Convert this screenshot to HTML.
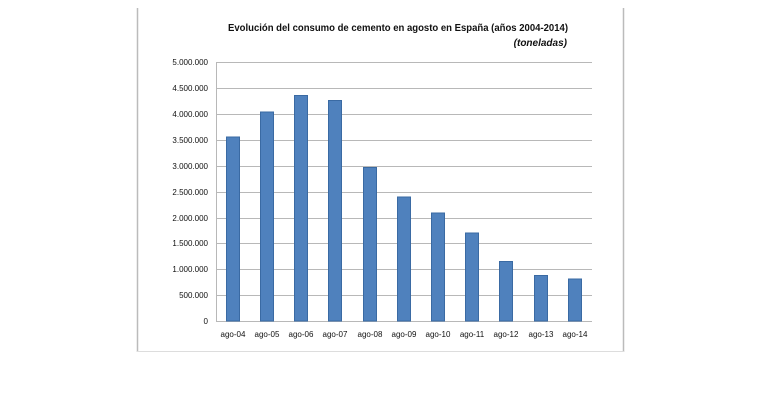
<!DOCTYPE html><html><head><meta charset="utf-8"><style>body{margin:0;background:#fff}svg{display:block;font-family:"Liberation Sans",sans-serif}</style></head><body>
<svg width="759" height="400" xmlns="http://www.w3.org/2000/svg">
<line x1="137.5" y1="8" x2="137.5" y2="352" stroke="#bbb" stroke-width="1.5"/>
<line x1="623.5" y1="8" x2="623.5" y2="352" stroke="#bbb" stroke-width="1.5"/>
<line x1="137" y1="351.5" x2="624" y2="351.5" stroke="#ddd"/>
<text x="228" y="31" font-size="10" font-weight="bold" textLength="340" lengthAdjust="spacingAndGlyphs" fill="#111">Evolución del consumo de cemento en agosto en España (años 2004-2014)</text>
<text x="567" y="46" font-size="10" font-weight="bold" font-style="italic" text-anchor="end" fill="#111">(toneladas)</text>
<g stroke="#b8b8b8" stroke-width="1">
<line x1="216" x2="592" y1="62.5" y2="62.5"/><line x1="216" x2="592" y1="88.5" y2="88.5"/><line x1="216" x2="592" y1="114.5" y2="114.5"/><line x1="216" x2="592" y1="140.5" y2="140.5"/><line x1="216" x2="592" y1="166.5" y2="166.5"/><line x1="216" x2="592" y1="192.5" y2="192.5"/><line x1="216" x2="592" y1="218.5" y2="218.5"/><line x1="216" x2="592" y1="243.5" y2="243.5"/><line x1="216" x2="592" y1="269.5" y2="269.5"/><line x1="216" x2="592" y1="295.5" y2="295.5"/><line x1="216" x2="592" y1="321.5" y2="321.5"/>
<line x1="216.5" x2="216.5" y1="62" y2="322"/>
</g>
<g font-size="8" text-anchor="end" fill="#111">
<text x="208" y="65">5.000.000</text><text x="208" y="91">4.500.000</text><text x="208" y="117">4.000.000</text><text x="208" y="143">3.500.000</text><text x="208" y="169">3.000.000</text><text x="208" y="195">2.500.000</text><text x="208" y="221">2.000.000</text><text x="208" y="246">1.500.000</text><text x="208" y="272">1.000.000</text><text x="208" y="298">500.000</text><text x="208" y="324">0</text>
</g>
<g fill="#4f81bd" stroke="#3a6aa3" stroke-width="1">
<rect x="226.5" y="137" width="13" height="184"/>
<rect x="260.5" y="112" width="13" height="209"/>
<rect x="294.5" y="95.5" width="13" height="225.5"/>
<rect x="328.5" y="100.5" width="13" height="220.5"/>
<rect x="363.5" y="167.5" width="13" height="153.5"/>
<rect x="397.5" y="197" width="13" height="124"/>
<rect x="431.5" y="213" width="13" height="108"/>
<rect x="465.5" y="233" width="13" height="88"/>
<rect x="499.5" y="261.5" width="13" height="59.5"/>
<rect x="534.5" y="275.5" width="13" height="45.5"/>
<rect x="568.5" y="279" width="13" height="42"/>
</g>
<g font-size="8" text-anchor="middle" fill="#111">
<text x="233" y="337">ago-04</text><text x="267" y="337">ago-05</text><text x="301" y="337">ago-06</text><text x="335" y="337">ago-07</text><text x="370" y="337">ago-08</text><text x="404" y="337">ago-09</text><text x="438" y="337">ago-10</text><text x="472" y="337">ago-11</text><text x="506" y="337">ago-12</text><text x="541" y="337">ago-13</text><text x="575" y="337">ago-14</text>
</g>
</svg></body></html>
